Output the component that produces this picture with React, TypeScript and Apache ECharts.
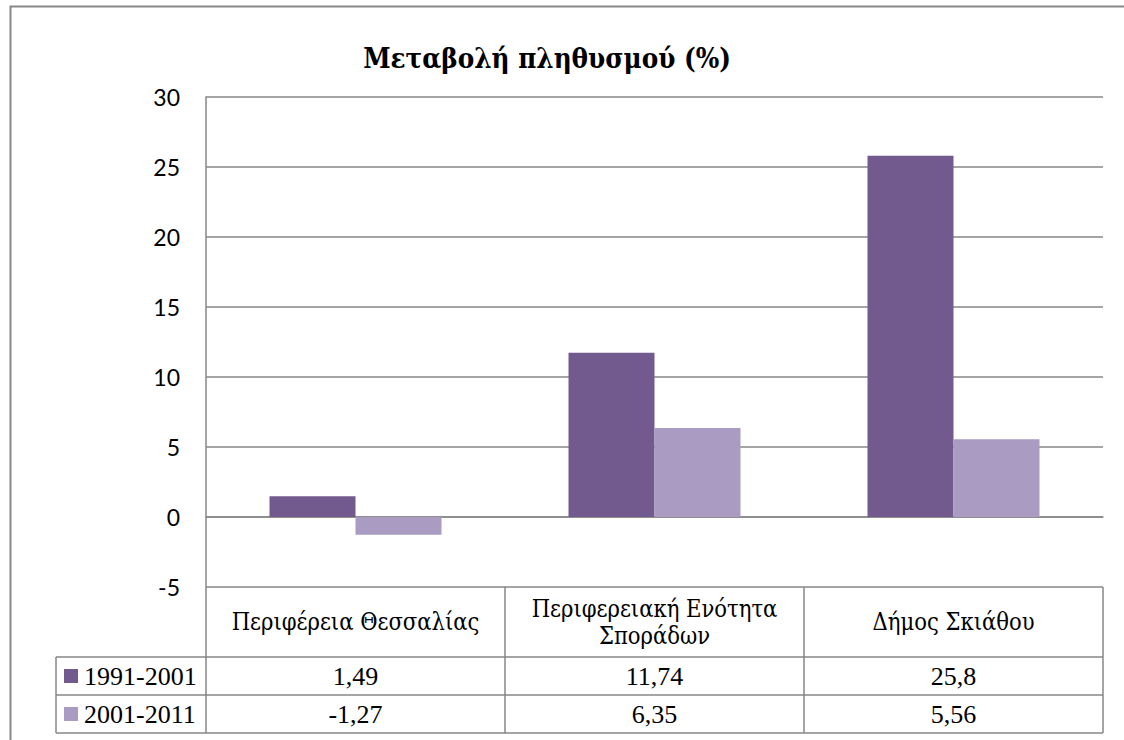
import React, { useEffect, useRef } from "react";
import * as echarts from "echarts";

const title = "Μεταβολή πληθυσμού (%)";
const categories = ["Περιφέρεια Θεσσαλίας", "Περιφερειακή Ενότητα\nΣποράδων", "Δήμος Σκιάθου"];
const seriesNames = ["1991-2001", "2001-2011"];
const values1991 = [1.49, 11.74, 25.8];
const values2001 = [-1.27, 6.35, 5.56];
const seriesColors = ["#725A8F", "#A99BC2"];

const GRID_L = 206;
const GRID_R = 1103;
const GRID_T = 97;
const GRID_B = 587;
const HEAD_B = 657;
const ROW1_B = 695;
const ROW2_B = 733;
const LEG_L = 56;
const LINE = "#878787";
const SERIF = "Liberation Serif";
const GREEK_SERIF = "DejaVu Serif Condensed";

export default function App() {
  const ref = useRef<HTMLDivElement>(null);
  useEffect(() => {
    if (!ref.current) return;
    const chart = echarts.init(ref.current, undefined, { renderer: "svg" });
    const colW = (GRID_R - GRID_L) / categories.length;
    const allVals = [values1991, values2001];
    const rowBounds = [
      [HEAD_B, ROW1_B],
      [ROW1_B, ROW2_B],
    ];
    const g: any[] = [];
    g.push({
      type: "rect",
      shape: { x: 10.5, y: 6.5, width: 1200, height: 900 },
      style: { fill: "none", stroke: LINE, lineWidth: 2 },
      silent: true,
    });
    const line = (x1: number, y1: number, x2: number, y2: number) =>
      g.push({
        type: "line",
        shape: { x1, y1, x2, y2 },
        style: { stroke: LINE, lineWidth: 1.5 },
        silent: true,
      });
    for (let i = 0; i <= categories.length; i++) {
      const x = GRID_L + i * colW;
      line(x, GRID_B, x, ROW2_B);
    }
    line(LEG_L, HEAD_B, LEG_L, ROW2_B);
    line(LEG_L, HEAD_B, GRID_R, HEAD_B);
    line(LEG_L, ROW1_B, GRID_R, ROW1_B);
    line(LEG_L, ROW2_B, GRID_R, ROW2_B);
    categories.forEach((c, i) => {
      g.push({
        type: "text",
        x: GRID_L + (i + 0.5) * colW,
        y: (GRID_B + HEAD_B) / 2,
        style: {
          text: c,
          fill: "#000",
          fontSize: 23.5,
          fontFamily: GREEK_SERIF,
          align: "center",
          verticalAlign: "middle",
          lineHeight: 27,
        },
        silent: true,
      });
    });
    seriesNames.forEach((name, r) => {
      const yc = (rowBounds[r][0] + rowBounds[r][1]) / 2;
      g.push({
        type: "rect",
        shape: { x: 64, y: yc - 7, width: 14, height: 14 },
        style: { fill: seriesColors[r] },
        silent: true,
      });
      g.push({
        type: "text",
        x: 84,
        y: yc,
        style: { text: name, fill: "#000", fontSize: 26, fontFamily: SERIF, align: "left", verticalAlign: "middle" },
        silent: true,
      });
      allVals[r].forEach((v, i) => {
        g.push({
          type: "text",
          x: GRID_L + (i + 0.5) * colW,
          y: yc,
          style: {
            text: String(v).replace(".", ","),
            fill: "#000",
            fontSize: 26,
            fontFamily: SERIF,
            align: "center",
            verticalAlign: "middle",
          },
          silent: true,
        });
      });
    });
    g.push({
      type: "text",
      x: 547,
      y: 58,
      style: {
        text: title,
        fill: "#000",
        fontSize: 27.5,
        fontWeight: "bold",
        fontFamily: GREEK_SERIF,
        align: "center",
        verticalAlign: "middle",
      },
      silent: true,
    });

    chart.setOption({
      animation: false,
      grid: { left: GRID_L, top: GRID_T, width: GRID_R - GRID_L, height: GRID_B - GRID_T, containLabel: false },
      xAxis: {
        type: "category",
        data: categories,
        axisLine: { show: true, onZero: true, lineStyle: { color: LINE, width: 1.5 } },
        axisTick: { show: false },
        axisLabel: { show: false },
        splitLine: { show: false },
      },
      yAxis: {
        type: "value",
        min: -5,
        max: 30,
        interval: 5,
        axisLine: { show: true, lineStyle: { color: LINE, width: 1.5 } },
        axisTick: { show: false },
        axisLabel: { fontFamily: "Lato", fontSize: 23, color: "#000", margin: 26 },
        splitLine: { show: true, lineStyle: { color: LINE, width: 1.5 } },
      },
      series: [
        { type: "bar", name: seriesNames[0], data: values1991, barWidth: 86, barGap: "0%", itemStyle: { color: seriesColors[0] } },
        { type: "bar", name: seriesNames[1], data: values2001, barWidth: 86, barGap: "0%", itemStyle: { color: seriesColors[1] } },
      ],
      graphic: g,
    });
    return () => chart.dispose();
  }, []);
  return (
    <div
      ref={ref}
      style={{ position: "absolute", left: 0, top: 0, width: 1124, height: 740, background: "#fff" }}
    />
  );
}
